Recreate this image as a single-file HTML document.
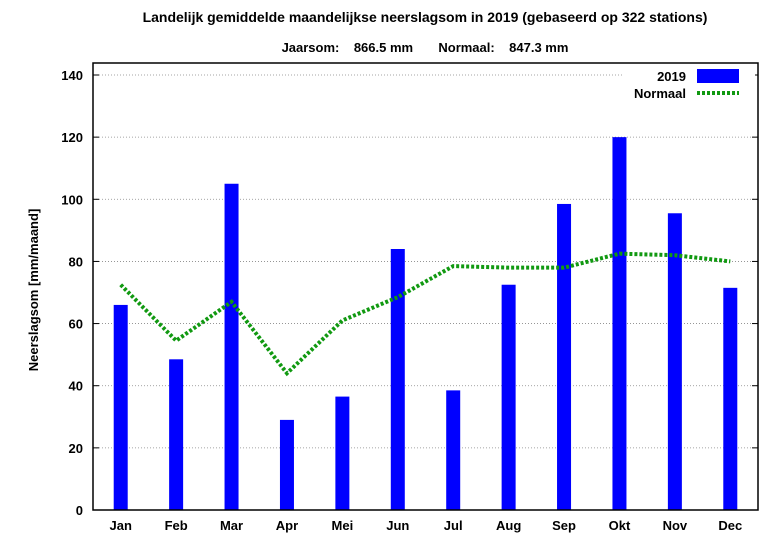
<!DOCTYPE html>
<html><head><meta charset="utf-8"><style>
body{margin:0;background:#fff;}
svg text{font-family:"Liberation Sans",sans-serif;font-weight:bold;fill:#000;}
</style></head><body>
<svg width="779" height="550" xmlns="http://www.w3.org/2000/svg">
<text x="425" y="22" font-size="14" text-anchor="middle">Landelijk gemiddelde maandelijkse neerslagsom in 2019 (gebaseerd op 322 stations)</text>
<text x="425" y="52" font-size="13" text-anchor="middle" xml:space="preserve">Jaarsom:    866.5 mm       Normaal:    847.3 mm</text>
<g id="grid"></g>
<g id="bars"></g>
<polyline id="normal" fill="none" stroke="#119911" stroke-width="4" stroke-dasharray="3,2"/>
<rect x="93" y="63" width="665" height="447" fill="none" stroke="#000" stroke-width="1.5"/>
<g id="axes"></g>
<text transform="translate(38,290) rotate(-90)" font-size="13" text-anchor="middle">Neerslagsom [mm/maand]</text>
<rect x="623" y="66" width="132" height="36" fill="#fff"/>
<text x="686" y="81" font-size="13" text-anchor="end">2019</text>
<rect x="697" y="69" width="42" height="14" fill="#0000ff"/>
<text x="686" y="98" font-size="13" text-anchor="end">Normaal</text>
<line x1="697" y1="93" x2="739" y2="93" stroke="#119911" stroke-width="4" stroke-dasharray="3,2"/>
</svg>
<script>
const months=["Jan","Feb","Mar","Apr","Mei","Jun","Jul","Aug","Sep","Okt","Nov","Dec"];
const values2019=[66,48.5,105,29,36.5,84,38.5,72.5,98.5,120,95.5,71.5];
const valuesNormaal=[72.5,54.5,67,44,61,68.5,78.5,78,78,82.5,82,80];
const yTicks=[0,20,40,60,80,100,120,140];
const NS="http://www.w3.org/2000/svg";
const L=93,R=758,B=510,T=75;
const x=i=>L+(R-L)/12*(i+0.5);
const y=v=>B-(B-T)*v/140;
function mk(tag,attrs,parent){const e=document.createElementNS(NS,tag);for(const k in attrs)e.setAttribute(k,attrs[k]);parent.appendChild(e);return e;}
const grid=document.getElementById('grid'),axes=document.getElementById('axes'),bars=document.getElementById('bars');
yTicks.forEach(t=>{
  if(t>0){const g=mk('line',{x1:L,x2:R,y1:y(t),y2:y(t),stroke:'#888','stroke-width':0.8,'stroke-dasharray':'1,2'},grid);
  
  }
  const tl=mk('line',{x1:L,x2:L+6,y1:y(t),y2:y(t),stroke:'#000','stroke-width':1},axes);
  
  
  const tr=mk('line',{x1:R-6,x2:R,y1:y(t),y2:y(t),stroke:'#000','stroke-width':1},axes);
  
  
  const tx=mk('text',{x:L-10,y:y(t)+5,'font-size':13,'text-anchor':'end'},axes);
  tx.textContent=t;
  
  
});
months.forEach((m,i)=>{
  const b=mk('rect',{x:x(i)-7,y:y(values2019[i]),width:14,height:B-y(values2019[i]),fill:'#0000ff'},bars);
  
  
  const tx=mk('text',{x:x(i),y:B+20,'font-size':13,'text-anchor':'middle'},axes);
  tx.textContent=m;
  
  
});
document.getElementById('normal').setAttribute('points',valuesNormaal.map((v,i)=>x(i)+','+y(v)).join(' '));
</script>
</body></html>
